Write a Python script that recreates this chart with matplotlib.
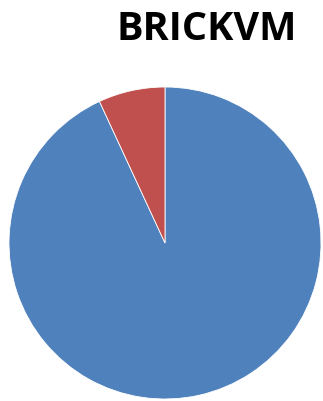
import matplotlib.pyplot as plt

labels = ["BRICKVM", "Other"]
shares = [93.1, 6.9]
colors = ["#4F81BD", "#C0504D"]

fig = plt.figure(figsize=(3.23, 4.01), dpi=100)

# pie area: centre (165, 243) px, radius ~156 px
ax = fig.add_axes([(165 - 156) / 323, (401 - 243 - 156) / 401, 312 / 323, 312 / 401])
ax.pie(shares, colors=colors, startangle=90, counterclock=False,
       wedgeprops=dict(edgecolor="white", linewidth=0.6))
ax.set_aspect("equal")
ax.set_xlim(-1, 1)
ax.set_ylim(-1, 1)
ax.axis("off")

fig.text(206.5 / 323, 1 - 30 / 401, "BRICKVM", ha="center", va="center",
         fontsize=28.5, fontweight="bold", family="Open Sans")

plt.savefig("out.png", dpi=100)
